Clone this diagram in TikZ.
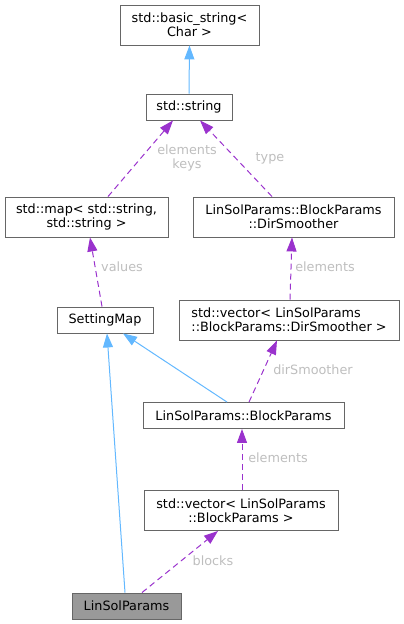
\documentclass[tikz,border=0pt]{standalone}
\usepackage{fontspec}
\setmainfont{DejaVu Sans}
\usetikzlibrary{arrows.meta}

\definecolor{boxgray}{HTML}{666666}
\definecolor{mainfill}{HTML}{999999}
\definecolor{inhblue}{HTML}{63B8FF}
\definecolor{usepurple}{HTML}{9A32CD}
\definecolor{rolegray}{HTML}{BEBEBE}

\tikzstyle{cls}=[draw=boxgray,line width=0.9pt,fill=white,inner sep=0pt,minimum height=26pt,align=center,font=\fontsize{12.8}{14.4}\selectfont]
\tikzstyle{inherit} = [draw=inhblue,line width=1pt,-{Triangle[length=14pt,width=10pt]}]
\tikzstyle{member} = [draw=usepurple,line width=1pt,dash pattern=on 6pt off 4pt,-{Triangle[length=14pt,width=10pt]}]
\tikzstyle{role} = [text=rolegray,inner sep=0pt,align=center,font=\fontsize{12.8}{14.4}\selectfont]

\begin{document}
\begin{tikzpicture}[x=1pt,y=-1pt]
    \useasboundingbox (0,0) rectangle (404,624);
    % the classes, placed at their pixel positions
    \foreach \pos/\name/\bw/\bh/\txt in {{(189.5,25)/basicstr/139/40/{std::basic\_string<\\Char >}},
        {(189,107)/str/86/26/{std::string}},
        {(86.5,217)/strmap/163/40/{std::map< std::string,\\std::string >}},
        {(293.5,217)/dirsm/201/40/{LinSolParams::BlockParams\\::DirSmoother}},
        {(105,320)/setmap/96/26/{SettingMap}},
        {(243.5,415.5)/blockp/201/26/{LinSolParams::BlockParams}},
        {(241,510.5)/vecblock/194/40/{std::vector< LinSolParams\\::BlockParams >}}}
        \node[cls,minimum width=\bw,minimum height=\bh] (\name) at \pos {\txt};
    \node[cls,minimum width=220,minimum height=40,align=left] (vecdir) at (289,320) {std::vector< LinSolParams\\::BlockParams::DirSmoother >};
    \node[cls,minimum width=109,fill=mainfill] (linsol) at (126.5,606) {LinSolParams};
    % base classes
    \foreach \src/\sx/\dst/\dx in {str/0/basicstr/0,blockp/-16.5/setmap/18,linsol/-1.5/setmap/2}
        \path[inherit] ([xshift=\sx]\src.north) -- ([xshift=\dx]\dst.south);
    % members, with their names
    \foreach \src/\sx/\dst/\dx/\lpos/\txt in {strmap/21.5/str/-16/{(187,158)}/{elements\\keys},
        dirsm/-21.5/str/11/{(270,158)}/type,
        setmap/-3/strmap/3.5/{(122,267)}/values,
        vecdir/1/dirsm/-1.5/{(325,267)}/elements,
        blockp/5.5/vecdir/-12/{(313,370)}/dirSmoother,
        vecblock/1/blockp/-1.5/{(278,458)}/elements,
        linsol/15.5/vecblock/-23/{(213,561)}/blocks}
        \path[member] ([xshift=\sx]\src.north) -- ([xshift=\dx]\dst.south) node[role] (\src-role) at \lpos {\txt};
\end{tikzpicture}
\end{document}
